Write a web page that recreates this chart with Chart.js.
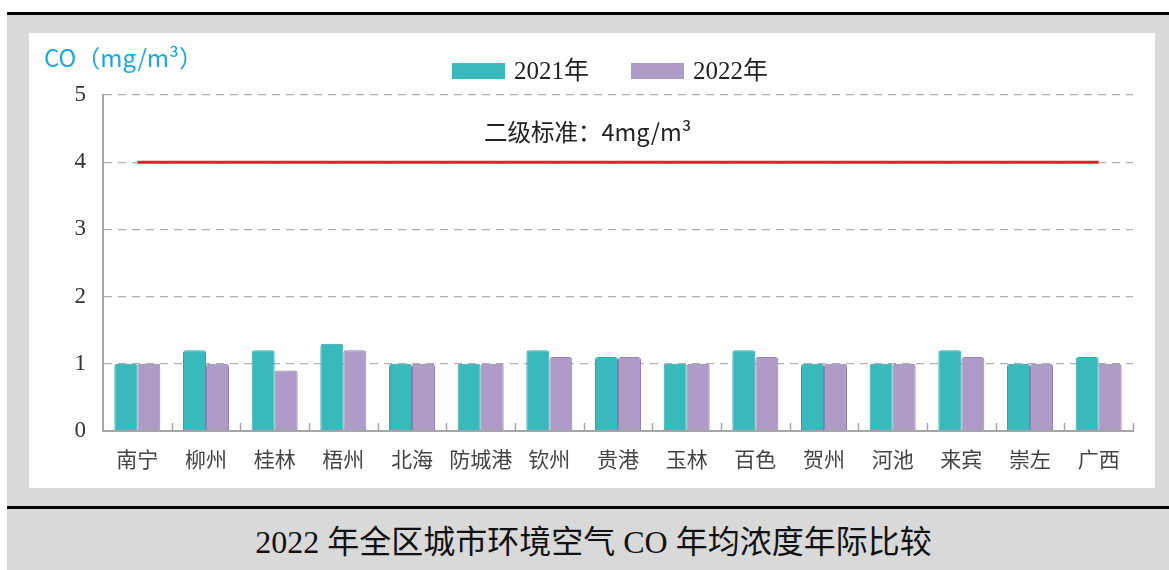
<!DOCTYPE html>
<html><head><meta charset="utf-8">
<script src="https://cdn.jsdelivr.net/npm/chart.js@4/dist/chart.umd.min.js"></script>
<style>
html,body{margin:0;padding:0;background:#fff;}
body{width:1169px;height:570px;position:relative;overflow:hidden;font-family:"Noto Sans CJK SC",sans-serif;}
#bg{position:absolute;left:7px;top:12px;width:1162px;height:558px;background:#d9d9d9;}
#topline{position:absolute;left:7px;top:12px;width:1162px;height:3px;background:#000;}
#botline{position:absolute;left:7px;top:506px;width:1162px;height:3px;background:#000;}
#panel{position:absolute;left:29px;top:33px;width:1126px;height:455px;background:#fff;}
#wrap{position:absolute;left:29px;top:33px;width:1126px;height:455px;}
#unit{position:absolute;left:44px;top:41px;font-size:24px;color:#1ea7dc;line-height:32px;font-family:"Noto Sans CJK SC",sans-serif;white-space:nowrap;}
.leg{position:absolute;top:55px;height:32px;line-height:32px;font-size:25px;color:#222;font-family:"Liberation Serif","Noto Sans CJK SC",serif;white-space:nowrap;}
.box{display:inline-block;width:53px;height:16px;vertical-align:0px;margin-right:9px;}
#note{position:absolute;left:484px;top:114px;font-size:23.5px;color:#222;line-height:34px;white-space:nowrap;}
#caption{position:absolute;left:9px;width:1169px;top:521px;text-align:center;font-size:32px;line-height:42px;color:#111;font-family:"Liberation Serif","Noto Sans CJK SC",serif;white-space:nowrap;}
</style></head>
<body>
<div id="bg"></div>
<div id="topline"></div>
<div id="botline"></div>
<div id="panel"></div>
<div id="wrap"><canvas id="c" width="1126" height="455"></canvas></div>
<div id="unit">CO（mg/m³）</div>
<div class="leg" style="left:452px"><span class="box" style="background:#3ab9bd"></span>2021年</div>
<div class="leg" style="left:631px"><span class="box" style="background:#ae9bc8"></span>2022年</div>
<div id="note">二级标准：4mg/m³</div>
<div id="caption">2022 年全区城市环境空气 CO 年均浓度年际比较</div>
<script>
const categories = ["南宁","柳州","桂林","梧州","北海","防城港","钦州","贵港","玉林","百色","贺州","河池","来宾","崇左","广西"];
const values2021 = [1.0,1.2,1.2,1.3,1.0,1.0,1.2,1.1,1.0,1.2,1.0,1.0,1.2,1.0,1.1];
const values2022 = [1.0,1.0,0.9,1.2,1.0,1.0,1.1,1.1,1.0,1.1,1.0,1.0,1.1,1.0,1.0];
const standardValue = 4;
const standardLine = categories.map(() => standardValue);
const yTicks = [0,1,2,3,4,5];

const innerTicks = {
  id: 'innerTicks',
  afterDatasetsDraw(chart) {
    const x = chart.scales.x, y = chart.scales.y, ctx = chart.ctx;
    const base = y.getPixelForValue(0);
    ctx.save();
    ctx.strokeStyle = '#a6a6a6';
    ctx.lineWidth = 1.5;
    for (let i = 0; i < categories.length; i++) {
      let p;
      if (i < categories.length - 1) p = (x.getPixelForValue(i) + x.getPixelForValue(i + 1)) / 2;
      else p = x.right;
      ctx.beginPath();
      ctx.moveTo(Math.round(p) + 0.5, base);
      ctx.lineTo(Math.round(p) + 0.5, base - 8);
      ctx.stroke();
    }
    ctx.restore();
  }
};

new Chart(document.getElementById('c'), {
  type: 'bar',
  data: {
    labels: categories,
    datasets: [
      { type: 'line', label: '二级标准', data: standardLine, borderColor: '#e0202a', borderWidth: 3, pointRadius: 0, fill: false, order: 0 },
      { label: '2021年', data: values2021, backgroundColor: '#3ab9bd', borderColor: '#2fa3a8', borderWidth: 1, borderRadius: {topLeft: 3, topRight: 3}, borderSkipped: 'bottom', categoryPercentage: 0.67, barPercentage: 1.0, order: 1 },
      { label: '2022年', data: values2022, backgroundColor: '#ae9bc8', borderColor: '#8f80b6', borderWidth: 1, borderRadius: {topLeft: 3, topRight: 3}, borderSkipped: 'bottom', categoryPercentage: 0.67, barPercentage: 1.0, order: 1 }
    ]
  },
  options: {
    responsive: false,
    animation: false,
    layout: { padding: { left: 0, right: 22, top: 62, bottom: 0 } },
    plugins: { legend: { display: false }, tooltip: { enabled: false } },
    scales: {
      x: {
        grid: { display: false, drawTicks: false },
        border: { display: true, color: '#a6a6a6', width: 2 },
        ticks: { color: '#444', font: { family: '"Noto Sans CJK SC"', size: 21 }, padding: 15, maxRotation: 0, autoSkip: false },
        afterFit(s) { s.height = 57; }
      },
      y: {
        min: 0, max: 5,
        afterBuildTicks(s) { s.ticks = yTicks.map(v => ({ value: v })); },
        grid: { color: '#b0b0b0', lineWidth: 1.3, drawTicks: false },
        border: { display: true, color: '#a6a6a6', width: 2, dash: [8, 6] },
        ticks: { color: '#333', font: { family: '"Liberation Serif"', size: 23 }, padding: 17 },
        afterFit(s) { s.width = 74; }
      }
    }
  },
  plugins: [innerTicks]
});
</script>
</body></html>
